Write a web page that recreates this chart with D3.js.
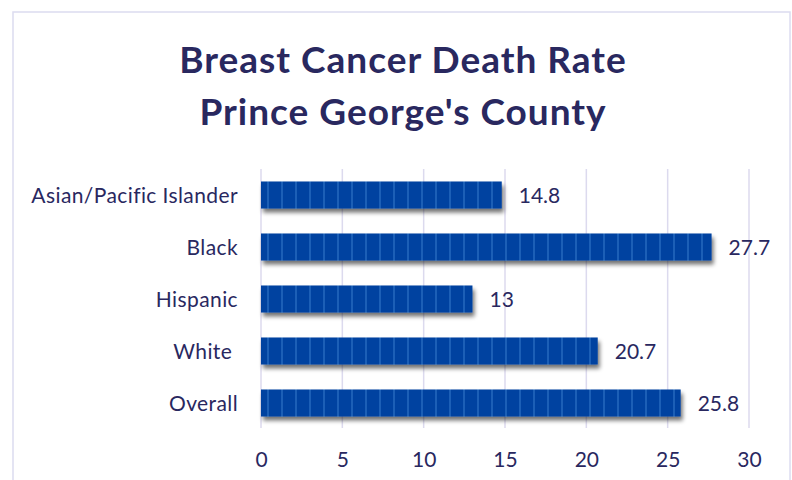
<!DOCTYPE html>
<html>
<head>
<meta charset="utf-8">
<script src="https://cdn.jsdelivr.net/npm/d3@7"></script>
<style>
  html, body { margin: 0; padding: 0; background: #ffffff; }
  svg { display: block; }
</style>
</head>
<body>
<svg id="chart" width="792" height="480"></svg>
<script>
// Breast cancer death rate by group, Prince George's County
const categories = ["Asian/Pacific Islander", "Black", "Hispanic", "White ", "Overall"];
const rates = [14.8, 27.7, 13, 20.7, 25.8];
const rateLabels = ["14.8", "27.7", "13", "20.7", "25.8"];
const xTicks = [0, 5, 10, 15, 20, 25, 30];
const titleLines = ["Breast Cancer Death Rate", "Prince George's County"];

const textColor = "#29285f";
const font = "Lato, 'Open Sans', sans-serif";

const svg = d3.select("#chart");
const defs = svg.append("defs");

// Bar fill: deep blue with thin lighter vertical stripes
const pat = defs.append("pattern")
  .attr("id", "barStripe")
  .attr("patternUnits", "userSpaceOnUse")
  .attr("x", 267).attr("y", 0)
  .attr("width", 14).attr("height", 10);
pat.append("rect").attr("width", 14).attr("height", 10).attr("fill", "#0142a0");
pat.append("rect").attr("x", 0).attr("width", 2).attr("height", 10).attr("fill", "#1b5eb6");

// Soft drop shadow under bars
const flt = defs.append("filter").attr("id", "shadow")
  .attr("x", "-5%").attr("y", "-30%").attr("width", "115%").attr("height", "180%");
flt.append("feGaussianBlur").attr("in", "SourceAlpha").attr("stdDeviation", 2).attr("result", "b");
flt.append("feOffset").attr("in", "b").attr("dx", 2).attr("dy", 3.5).attr("result", "o");
flt.append("feComponentTransfer").attr("in", "o").attr("result", "oa")
  .append("feFuncA").attr("type", "linear").attr("slope", 0.55);
const merge = flt.append("feMerge");
merge.append("feMergeNode").attr("in", "oa");
merge.append("feMergeNode").attr("in", "SourceGraphic");

// Outer frame
svg.append("rect")
  .attr("x", 13).attr("y", 12).attr("width", 777).attr("height", 480)
  .attr("fill", "#ffffff").attr("stroke", "#dcdcf0").attr("stroke-width", 1.5);

// Title
svg.append("g").selectAll("text").data(titleLines).join("text")
  .attr("x", 403).attr("y", (d, i) => 73 + i * 52)
  .attr("text-anchor", "middle")
  .attr("font-family", font).attr("font-weight", "bold")
  .attr("font-size", 37).attr("letter-spacing", 1)
  .attr("fill", textColor)
  .text(d => d);

// Scales
const x = d3.scaleLinear().domain([0, 30]).range([261, 749]);
const y = d3.scaleBand().domain(categories).range([169, 429]).paddingInner(0.48).paddingOuter(0.24);

// Vertical gridlines
svg.append("g").selectAll("line").data(xTicks).join("line")
  .attr("x1", d => x(d)).attr("x2", d => x(d))
  .attr("y1", 169).attr("y2", 428)
  .attr("stroke", "#dcdaee").attr("stroke-width", 1.5);

// Bars
svg.append("g").selectAll("rect").data(rates).join("rect")
  .attr("x", x(0))
  .attr("y", (d, i) => y(categories[i]))
  .attr("width", d => x(d) - x(0))
  .attr("height", y.bandwidth())
  .attr("fill", "url(#barStripe)")
  .attr("filter", "url(#shadow)");

// Value labels
svg.append("g").selectAll("text").data(rates).join("text")
  .attr("x", d => x(d) + 17)
  .attr("y", (d, i) => y(categories[i]) + y.bandwidth() / 2)
  .attr("dy", "0.36em")
  .attr("font-family", font).attr("font-size", 21).attr("fill", textColor)
  .text((d, i) => rateLabels[i]);

// Category axis (keep trailing spaces in the names)
const yAxis = svg.append("g").attr("transform", `translate(${x(0)},0)`)
  .call(d3.axisLeft(y).tickSize(0).tickPadding(23));
yAxis.select(".domain").remove();
yAxis.selectAll("text")
  .attr("font-family", font).attr("font-size", 21).attr("letter-spacing", 0.4)
  .attr("fill", textColor)
  .attr("dy", "0.36em")
  .style("white-space", "pre");

// Value axis
const xAxis = svg.append("g").attr("transform", "translate(0,428)")
  .call(d3.axisBottom(x).tickValues(xTicks).tickSize(0).tickPadding(24));
xAxis.select(".domain").remove();
xAxis.selectAll("text")
  .attr("font-family", font).attr("font-size", 21).attr("fill", textColor);
</script>
</body>
</html>
